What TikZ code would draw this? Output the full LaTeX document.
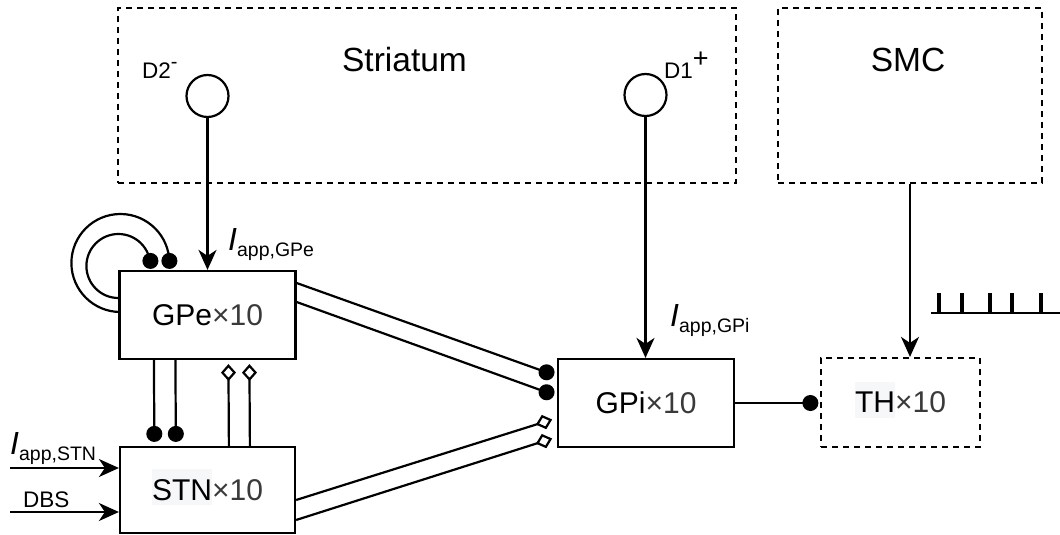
\documentclass[tikz,border=0pt]{standalone}
\usepackage{fontspec}
\setmainfont{Liberation Sans}
\usetikzlibrary{arrows.meta,calc}
\definecolor{numgray}{HTML}{3A3A3A}
\definecolor{hlgray}{HTML}{F6F7F9}
\newcommand\fsz[1]{\fontsize{#1}{#1}\selectfont}
\newcommand\hlbox[1]{\smash{\setlength{\fboxsep}{0pt}\colorbox{hlgray}{\rule[-5pt]{0pt}{36pt}#1}}}
\newcommand\iapp[1]{{\fsz{32}\itshape I}\raisebox{-6pt}{\fsz{19.5}#1}}
\begin{document}
\begin{tikzpicture}[x=1pt,y=-1pt,font=\fsz{30},
  blk/.style={draw,line width=2.2pt,inner sep=0pt},
  dblk/.style={blk,dash pattern=on 6pt off 5pt},
  lbl/.style={inner sep=0pt},
  arr/.style={line width=2.2pt,-{Stealth[length=20pt,width=18pt,inset=6pt]}},
  dotend/.style={line width=2.2pt,-{Circle[length=16pt]},shorten >=2pt},
  diaend/.style={line width=2.2pt,-{Diamond[open,length=17pt,width=15pt]},shorten >=4pt},
  pulse/.style={line width=3.8pt}]
\useasboundingbox (0,0) rectangle (1060,535);

% regions
\node[dblk,minimum width=618pt,minimum height=175pt] (str) at (427,95.5) {};
\node[dblk,minimum width=264pt,minimum height=175pt] (smc) at (910,95.5) {};
\node[lbl,anchor=base,font=\fsz{33.5}] (strlab) at (404.5,72) {Striatum};
\node[lbl,anchor=base,font=\fsz{33.5}] (smclab) at (908,72) {SMC};

% receptor circles
\node[blk,circle,minimum size=42pt] (d2) at (207.5,96) {};
\node[blk,circle,minimum size=42pt] (d1) at (645.5,95) {};
\node[lbl,anchor=base west,font=\fsz{22.5}] (d2lab) at (142,78) {D2\raisebox{10pt}{\fsz{20}-}};
\node[lbl,anchor=base west,font=\fsz{22.5}] (d1lab) at (664,78) {D1\raisebox{11pt}{\fsz{27}+}};

% population boxes
\node[blk,minimum width=176pt,minimum height=88pt] (gpe) at (207.5,315) {GPe{\color{numgray}×10}};
\node[blk,minimum width=175pt,minimum height=86pt] (stn) at (207.5,490) {\hlbox{STN}{\color{numgray}×10}};
\node[blk,minimum width=176pt,minimum height=88pt] (gpi) at (646,403) {GPi{\color{numgray}×10}};
\node[dblk,minimum width=159pt,minimum height=89pt] (th) at (900.5,402.5) {\hlbox{TH}{\color{numgray}×10}};

% input labels
\node[lbl,anchor=base west] (igpe) at (228,250) {\iapp{app,GPe}};
\node[lbl,anchor=base west] (igpi) at (670,326) {\iapp{app,GPi}};
\node[lbl,anchor=base west] (istn) at (10,454) {\iapp{app,STN}};
\node[lbl,anchor=base west,font=\fsz{22.5}] (dbslab) at (23,507) {DBS};
\coordinate (iin) at (10,468);
\coordinate (dbsin) at (10,512);

% excitatory inputs
\draw[arr] (d2.south) -- (d2.south |- gpe.north);
\draw[arr] (d1.south) -- (d1.south |- gpi.north);
\draw[arr] (smc.south) -- (smc.south |- th.north);
\draw[arr] (iin) -- (iin -| stn.west);
\draw[arr] (dbsin) -- (dbsin -| stn.west);

% GPe self loop
\draw[dotend,shorten >=1pt] ($(gpe.west)+(0,-3)$) -- ++(2,0) arc[start angle=270,end angle=0,radius=49pt] -- ($(gpe.north west)+(51,0)$);
\draw[dotend,shorten >=1pt] ($(gpe.west)+(0,-17)$) arc[start angle=270,end angle=0,radius=32pt] -- ($(gpe.north west)+(32,0)$);

% GPe -> STN (inhibitory)
\draw[dotend,shorten >=4pt] ($(gpe.south west)+(35.5,0)$) -- ($(stn.north west)+(35.5,0)$);
\draw[dotend,shorten >=4pt] ($(gpe.south west)+(57,0)$) -- ($(stn.north west)+(57,0)$);

% STN -> GPe (excitatory)
\draw[diaend] ($(stn.north west)+(110,0)$) -- ($(gpe.south west)+(110,0)$);
\draw[diaend] ($(stn.north west)+(131,0)$) -- ($(gpe.south west)+(131,0)$);

% GPe -> GPi
\draw[dotend,shorten >=3pt] ($(gpe.east)+(0,-32)$) -- ($(gpi.west)+(0,-27)$);
\draw[dotend,shorten >=3pt] ($(gpe.east)+(0,-13)$) -- ($(gpi.west)+(0,-7)$);

% STN -> GPi
\draw[diaend,shorten >=5pt] ($(stn.east)+(0,10)$) -- ($(gpi.west)+(0,15)$);
\draw[diaend,shorten >=5pt] ($(stn.east)+(0,30)$) -- ($(gpi.west)+(0,34)$);

% GPi -> TH
\draw[dotend,shorten >=1.5pt] (gpi.east) -- (gpi.east -| th.west);

% SMC pulse train
\draw[line width=2.2pt] (931,313) -- (1060,313);
\foreach \px in {939,962,990,1012,1041} \draw[pulse] (\px,313) -- (\px,293);
\end{tikzpicture}
\end{document}
